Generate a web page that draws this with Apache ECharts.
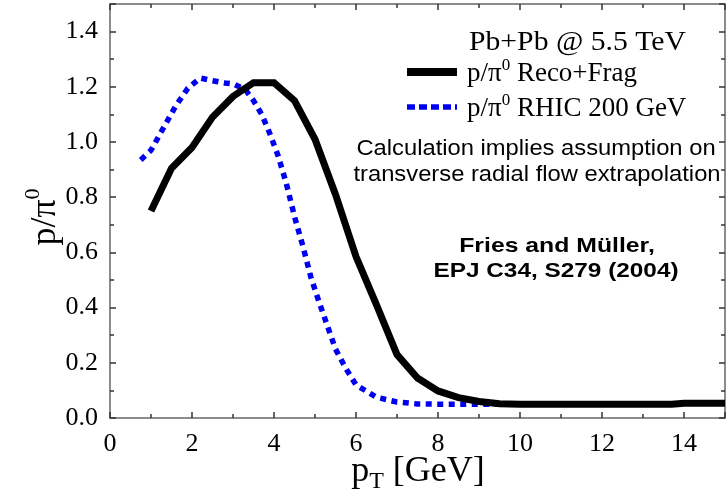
<!DOCTYPE html>
<html>
<head>
<meta charset="utf-8">
<script src="https://cdn.jsdelivr.net/npm/echarts@6/dist/echarts.min.js"></script>
<style>html,body{margin:0;padding:0;background:#fff}#c{width:728px;height:496px}</style>
</head>
<body>
<div id="c"></div>
<script>
// Data
var recoFragX = [1.0, 1.5, 2.0, 2.5, 3.0, 3.5, 4.0, 4.5, 5.0, 5.5, 6.0, 6.5, 7.0, 7.5, 8.0, 8.5, 9.0, 9.5, 10, 11, 12, 13, 13.7, 14, 15];
var recoFragY = [0.75, 0.905, 0.98, 1.09, 1.165, 1.215, 1.215, 1.15, 1.01, 0.81, 0.585, 0.41, 0.23, 0.145, 0.098, 0.074, 0.06, 0.052, 0.05, 0.05, 0.05, 0.05, 0.05, 0.053, 0.053];
var rhicX = [0.75, 1.0, 1.3, 1.6, 1.9, 2.2, 2.5, 2.8, 3.0, 3.3, 3.5, 3.7, 3.9, 4.1, 4.3, 4.5, 4.7, 4.9, 5.1, 5.3, 5.5, 5.75, 6.0, 6.5, 7.0, 7.5, 8.0, 9.0, 10.0];
var rhicY = [0.935, 0.97, 1.05, 1.13, 1.195, 1.232, 1.222, 1.214, 1.211, 1.19, 1.15, 1.1, 1.03, 0.95, 0.85, 0.73, 0.625, 0.51, 0.42, 0.335, 0.25, 0.18, 0.12, 0.075, 0.058, 0.051, 0.05, 0.05, 0.05];
var seriesNames = ['Reco+Frag', 'RHIC 200 GeV'];
var xTicks = [0, 2, 4, 6, 8, 10, 12, 14];
var yTicks = [0.0, 0.2, 0.4, 0.6, 0.8, 1.0, 1.2, 1.4];

function pairs(xs, ys) { return xs.map(function (x, i) { return [x, ys[i]]; }); }

var serif = '"Liberation Serif", "Times New Roman", serif';
var sans = '"Liberation Sans", Arial, sans-serif';
var axisCol = '#666';
var black = '#000';
var blue = '#0000f0';

var chart = echarts.init(document.getElementById('c'), null, {renderer: 'canvas'});

var baseX = {
  type: 'value', min: 0, max: 15, interval: 2,
  axisLine: {show: true, onZero: false, lineStyle: {color: axisCol, width: 1.5}},
  axisTick: {show: true, inside: true, length: 6, lineStyle: {color: '#333', width: 1.5}},
  minorTick: {show: true, splitNumber: 2, length: 4, lineStyle: {color: '#333', width: 1.5}},
  splitLine: {show: false},
  minorSplitLine: {show: false}
};
var baseY = {
  type: 'value', min: 0, max: 1.5, interval: 0.2,
  axisLine: {show: true, onZero: false, lineStyle: {color: axisCol, width: 1.5}},
  axisTick: {show: true, inside: true, length: 6, lineStyle: {color: '#333', width: 1.5}},
  minorTick: {show: true, splitNumber: 2, length: 4, lineStyle: {color: '#333', width: 1.5}},
  splitLine: {show: false},
  minorSplitLine: {show: false}
};

var option = {
  backgroundColor: '#fff',
  animation: false,
  grid: {left: 110, top: 4, width: 620, height: 414, containLabel: false},
  xAxis: [
    Object.assign({}, baseX, {
      position: 'bottom',
      axisLabel: {
        show: true, margin: 13, color: '#000', fontFamily: serif, fontSize: 26,
        formatter: function (v) { return xTicks.indexOf(v) >= 0 ? String(v) : ''; }
      }
    }),
    Object.assign({}, baseX, {position: 'top', axisLabel: {show: false}})
  ],
  yAxis: [
    Object.assign({}, baseY, {
      position: 'left',
      axisLabel: {
        show: true, margin: 12, color: '#000', fontFamily: serif, fontSize: 26,
        formatter: function (v) {
          var r = Math.round(v * 10) / 10;
          return yTicks.indexOf(r) >= 0 ? r.toFixed(1) : '';
        }
      }
    }),
    Object.assign({}, baseY, {position: 'right', axisLabel: {show: false}})
  ],
  legend: {
    orient: 'vertical',
    left: 403, top: 57, padding: 0,
    itemWidth: 50, itemHeight: 20, itemGap: 5,
    itemStyle: {opacity: 0},
    data: [
      {name: seriesNames[0], itemStyle: {opacity: 0}, lineStyle: {color: black, width: 8, type: 'solid', cap: 'butt'}},
      {name: seriesNames[1], itemStyle: {opacity: 0}, lineStyle: {color: blue, width: 5.5, type: [8, 4], cap: 'butt'}}
    ],
    formatter: function (name) {
      return '{m|p/π}{s|0}{m| ' + name + '}';
    },
    textStyle: {
      color: '#000', fontFamily: serif, fontSize: 26, padding: [0, 0, 0, 5],
      rich: {
        m: {fontFamily: serif, fontSize: 27, color: '#000', lineHeight: 30, verticalAlign: 'bottom'},
        s: {fontFamily: serif, fontSize: 17, color: '#000', lineHeight: 30, verticalAlign: 'top'}
      }
    }
  },
  graphic: [
    {
      type: 'text', left: 469, top: 29,
      style: {text: 'Pb+Pb @ 5.5 TeV', fontFamily: serif, fontSize: 27, fill: '#000'},
      scaleX: 1.1
    },
    {
      type: 'text', x: 536, y: 149,
      style: {text: 'Calculation implies assumption on', fontFamily: sans, fontSize: 22, fill: '#000', align: 'center', verticalAlign: 'middle', textAlign: 'center', textVerticalAlign: 'middle'},
      scaleX: 1.08
    },
    {
      type: 'text', x: 537, y: 175,
      style: {text: 'transverse radial flow extrapolation', fontFamily: sans, fontSize: 22, fill: '#000', align: 'center', verticalAlign: 'middle', textAlign: 'center', textVerticalAlign: 'middle'},
      scaleX: 1.08
    },
    {
      type: 'text', x: 557, y: 246,
      style: {text: 'Fries and Müller,', fontFamily: sans, fontSize: 21, fontWeight: 'bold', fill: '#000', align: 'center', verticalAlign: 'middle', textAlign: 'center', textVerticalAlign: 'middle'},
      scaleX: 1.18
    },
    {
      type: 'text', x: 556, y: 271,
      style: {text: 'EPJ C34, S279 (2004)', fontFamily: sans, fontSize: 21, fontWeight: 'bold', fill: '#000', align: 'center', verticalAlign: 'middle', textAlign: 'center', textVerticalAlign: 'middle'},
      scaleX: 1.16
    },
    {
      type: 'text', x: 43, y: 217, rotation: Math.PI / 2,
      style: {
        text: '{m|p/π}{s|0}', fill: '#000', align: 'center', verticalAlign: 'middle', textAlign: 'center', textVerticalAlign: 'middle',
        rich: {
          m: {fontFamily: serif, fontSize: 36, fill: '#000', lineHeight: 42, verticalAlign: 'bottom'},
          s: {fontFamily: serif, fontSize: 22, fill: '#000', lineHeight: 42, verticalAlign: 'top'}
        }
      }
    },
    {
      type: 'text', x: 418, y: 474,
      style: {
        text: '{m|p}{s|T}{m| [GeV]}', fill: '#000', align: 'center', verticalAlign: 'middle', textAlign: 'center', textVerticalAlign: 'middle',
        rich: {
          m: {fontFamily: serif, fontSize: 36, fill: '#000', lineHeight: 40, verticalAlign: 'top'},
          s: {fontFamily: serif, fontSize: 24, fill: '#000', lineHeight: 40, verticalAlign: 'bottom'}
        }
      }
    }
  ],
  series: [
    {
      name: seriesNames[0], type: 'line', xAxisIndex: 0, yAxisIndex: 0,
      data: pairs(recoFragX, recoFragY),
      symbol: 'none', showSymbol: false, smooth: false, z: 3,
      lineStyle: {color: black, width: 7, cap: 'butt', join: 'miter'},
      itemStyle: {color: black}
    },
    {
      name: seriesNames[1], type: 'line', xAxisIndex: 0, yAxisIndex: 0,
      data: pairs(rhicX, rhicY),
      symbol: 'none', showSymbol: false, smooth: false, z: 2,
      lineStyle: {color: blue, width: 5.5, type: [6, 5.5], cap: 'butt'},
      itemStyle: {color: blue}
    }
  ]
};
chart.setOption(option);
</script>
</body>
</html>
